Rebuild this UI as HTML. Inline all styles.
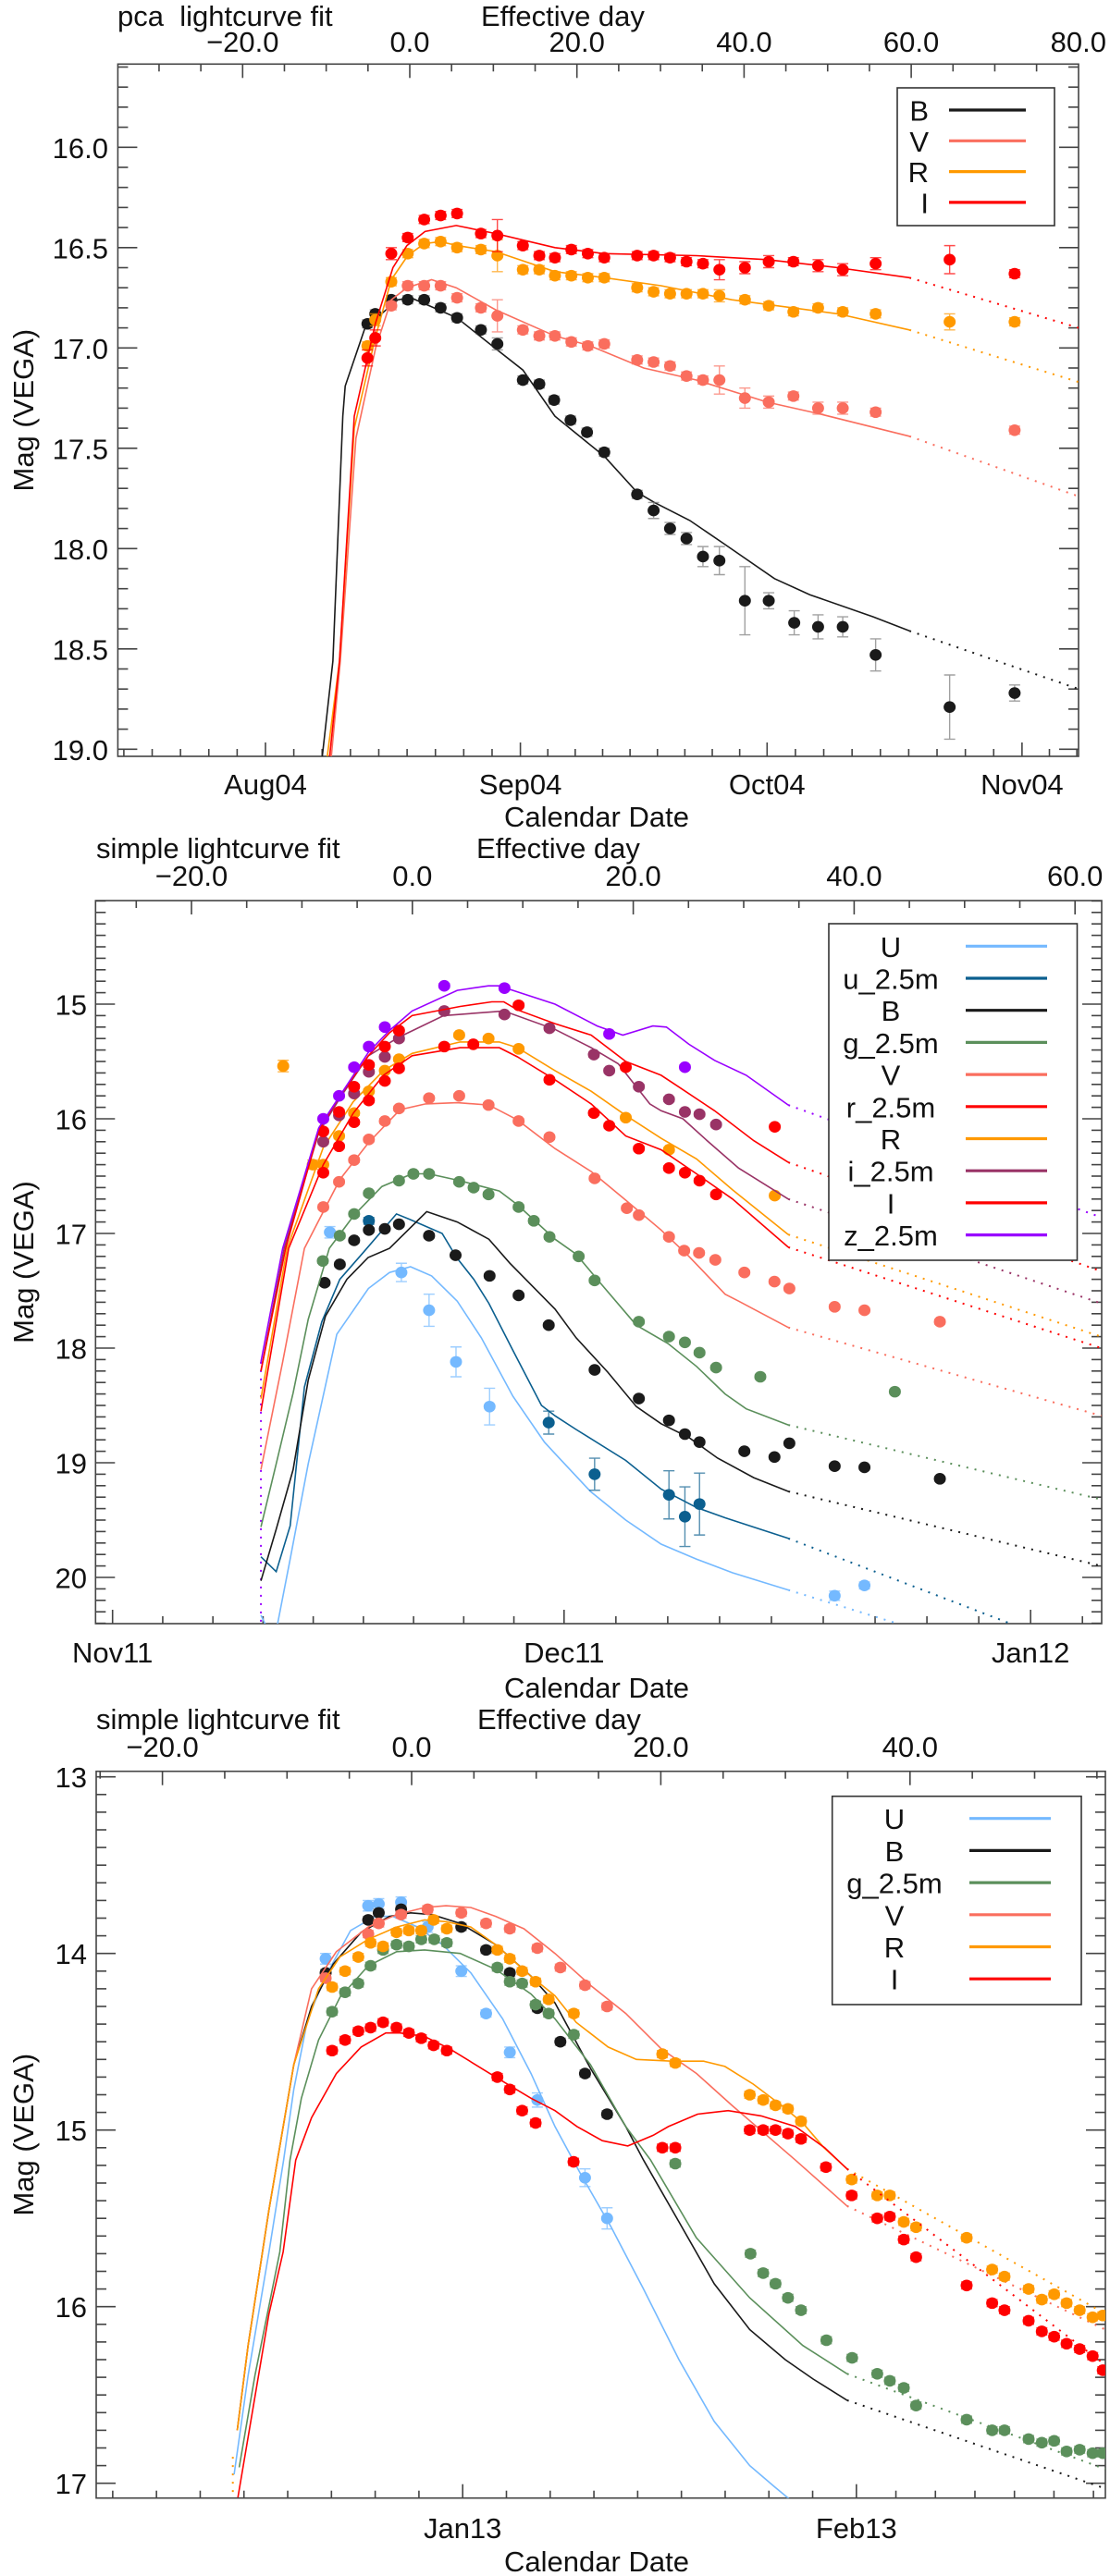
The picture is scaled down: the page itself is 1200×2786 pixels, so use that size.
<!DOCTYPE html>
<html><head><meta charset="utf-8"><style>
html,body{margin:0;padding:0;background:#fff}
svg{display:block}
text{font-family:"Liberation Sans",sans-serif;fill:#111}
</style></head><body>
<svg id="chart" width="1200" height="2786" viewBox="0 0 1200 2786" xmlns="http://www.w3.org/2000/svg"></svg>
<script>
// ===== Panel 1 data (days since Aug 1 2004) =====
const p1_B_d=[12.4,13.35,15.3,17.3,19.3,21.3,23.3,26.2,28.2,31.3,33.3,35.1,37.1,39.1,41.2,45.2,47.2,49.2,51.2,53.2,55.2,58.3,61.2,64.3,67.2,70.2,74.2,83.2,91.1];
const p1_B_m=[16.88,16.83,16.76,16.76,16.76,16.80,16.85,16.91,16.98,17.16,17.18,17.26,17.36,17.42,17.52,17.73,17.81,17.90,17.95,18.04,18.06,18.26,18.26,18.37,18.39,18.39,18.53,18.79,18.72];
const p1_B_e=[0.02,0.02,0.02,0.02,0.02,0.02,0.02,0.02,0.03,0.02,0.02,0.02,0.02,0.02,0.02,0.02,0.04,0.03,0.03,0.05,0.07,0.17,0.04,0.06,0.06,0.05,0.08,0.16,0.04];
const p1_V_d=[15.3,17.3,19.3,21.3,23.3,26.2,28.2,31.3,33.3,35.2,37.2,39.2,41.2,45.2,47.2,49.2,51.2,53.2,55.2,58.3,61.2,64.2,67.2,70.2,74.2,91.1];
const p1_V_m=[16.79,16.69,16.69,16.69,16.75,16.80,16.84,16.91,16.94,16.94,16.97,16.99,16.98,17.06,17.07,17.09,17.14,17.16,17.16,17.25,17.27,17.24,17.30,17.30,17.32,17.41];
const p1_V_e=[0.02,0.02,0.02,0.02,0.02,0.02,0.08,0.02,0.02,0.02,0.02,0.02,0.02,0.02,0.02,0.02,0.02,0.02,0.07,0.05,0.03,0.02,0.03,0.03,0.02,0.02];
const p1_R_d=[12.4,13.35,15.3,17.3,19.3,21.3,23.3,26.2,28.2,31.3,33.3,35.2,37.2,39.2,41.2,45.2,47.2,49.2,51.2,53.2,55.2,58.3,61.2,64.2,67.2,70.2,74.2,83.2,91.1];
const p1_R_m=[16.99,16.86,16.67,16.53,16.48,16.47,16.50,16.51,16.54,16.61,16.61,16.64,16.64,16.65,16.65,16.70,16.72,16.73,16.73,16.73,16.74,16.76,16.79,16.82,16.80,16.82,16.83,16.87,16.87];
const p1_R_e=[0.02,0.03,0.02,0.02,0.02,0.02,0.02,0.02,0.08,0.02,0.02,0.02,0.02,0.02,0.02,0.02,0.02,0.02,0.02,0.02,0.03,0.02,0.02,0.02,0.02,0.02,0.02,0.04,0.02];
const p1_I_d=[12.4,13.35,15.3,17.3,19.3,21.3,23.3,26.2,28.2,31.3,33.3,35.2,37.2,39.2,41.2,45.2,47.2,49.2,51.2,53.2,55.2,58.3,61.2,64.2,67.2,70.2,74.2,83.2,91.1];
const p1_I_m=[17.05,16.95,16.53,16.45,16.36,16.34,16.33,16.43,16.44,16.49,16.54,16.55,16.51,16.53,16.55,16.54,16.54,16.55,16.57,16.58,16.61,16.60,16.57,16.57,16.59,16.61,16.58,16.56,16.63];
const p1_I_e=[0.04,0.04,0.03,0.02,0.02,0.02,0.02,0.02,0.08,0.02,0.02,0.02,0.02,0.02,0.02,0.02,0.02,0.02,0.02,0.02,0.05,0.03,0.03,0.02,0.03,0.03,0.03,0.07,0.02];
const p1_Bfit_d=[6.9,8.2,9.4,9.7,12.1,16.1,17.7,23.3,28.2,31.3,35.2,41.2,45.2,47.3,51.6,55.9,61.9,66.2,73.9,78.3];
const p1_Bfit_m=[19.04,18.56,17.34,17.19,16.9,16.76,16.75,16.85,17.01,17.11,17.34,17.54,17.72,17.77,17.86,17.98,18.15,18.23,18.34,18.41];
const p1_Bdot_d=[78.3,98.9], p1_Bdot_m=[18.41,18.70];
const p1_Vfit_d=[8.0,9.1,11,13.4,15.3,17.2,20.2,23.2,28,35.2,39.5,46,52.4,61,67.5,78.3];
const p1_Vfit_m=[19.04,18.56,17.45,17.0,16.76,16.70,16.66,16.70,16.81,16.94,16.99,17.10,17.16,17.27,17.33,17.44];
const p1_Vdot_d=[78.3,98.9], p1_Vdot_m=[17.44,17.74];
const p1_Rfit_d=[7.5,9.0,10.8,13.35,15.3,17.3,19.3,21.3,23.3,28,35.2,41.2,48.1,56.7,69.6,78.3];
const p1_Rfit_m=[19.04,18.56,17.4,16.95,16.66,16.54,16.48,16.47,16.49,16.52,16.62,16.65,16.69,16.76,16.83,16.91];
const p1_Rdot_d=[78.3,98.9], p1_Rdot_m=[16.91,17.17];
const p1_Ifit_d=[7.8,9.0,10.8,13.35,15.5,17.2,19.4,23.2,28,35.2,41.2,52.4,61,69.6,78.3];
const p1_Ifit_m=[19.04,18.56,17.34,16.88,16.6,16.49,16.42,16.39,16.43,16.50,16.53,16.54,16.56,16.60,16.65];
const p1_Idot_d=[78.3,98.9], p1_Idot_m=[16.65,16.90];

// ===== Panel 2 data (days since Nov 1 2011) =====
const p2_U_d=[14.44,19.19,21.03,22.82,25.05,47.98,49.96];
const p2_U_m=[16.99,17.34,17.67,18.12,18.51,20.16,20.07];
const p2_U_e=[0.05,0.08,0.14,0.13,0.16,0.04,0.03];
const p2_u_d=[17.03,28.98,32.03,36.97,38.03,39.0];
const p2_u_m=[16.89,18.65,19.10,19.28,19.47,19.36];
const p2_u_e=[0.03,0.1,0.14,0.21,0.26,0.27];
const p2_B_d=[14.09,15.1,16.05,17.03,18.09,19.03,21.03,22.79,25.05,26.98,28.98,32.03,34.97,36.97,38.03,39.0,41.98,43.98,44.97,47.98,49.96,54.97];
const p2_B_m=[17.43,17.27,17.06,16.97,16.96,16.92,17.02,17.19,17.37,17.54,17.80,18.19,18.44,18.63,18.75,18.82,18.90,18.95,18.83,19.03,19.04,19.14];
const p2_g_d=[13.97,15.1,16.05,17.03,19.03,19.99,21.03,23.03,23.99,24.98,26.98,27.99,29.03,30.97,32.03,34.97,36.97,38.03,39.0,40.1,43.04,51.98];
const p2_g_m=[17.24,17.02,16.83,16.65,16.54,16.48,16.48,16.55,16.60,16.66,16.77,16.89,17.03,17.20,17.41,17.77,17.90,17.95,18.04,18.17,18.25,18.38];
const p2_V_d=[14.0,15.05,16.05,17.03,18.09,19.03,21.03,23.03,24.98,26.98,29.03,32.03,34.17,34.97,36.97,37.98,38.97,40.05,41.98,43.98,44.97,47.98,49.96,54.97];
const p2_V_m=[16.77,16.55,16.36,16.18,16.02,15.91,15.82,15.80,15.88,16.02,16.16,16.52,16.78,16.84,17.03,17.15,17.17,17.23,17.34,17.42,17.48,17.64,17.67,17.77];
const p2_r_d=[14.0,15.05,16.05,17.03,18.09,19.03,26.98,34.1,44.0];
const p2_r_m=[16.11,15.94,15.72,15.53,15.37,15.23,15.01,15.55,16.07];
const p2_R_d=[11.34,13.3,14.0,15.05,16.05,17.03,18.09,19.03,23.03,24.98,26.98,34.1,36.97,44.0];
const p2_R_m=[15.54,16.40,16.40,16.15,15.95,15.76,15.58,15.48,15.27,15.30,15.39,15.99,16.27,16.67];
const p2_R_e=[0.05,0.04,0.02,0.02,0.02,0.02,0.02,0.02,0.02,0.02,0.02,0.02,0.02,0.02];
const p2_i_d=[14.0,15.05,16.05,17.03,18.09,19.03,22.04,26.04,29.03,31.98,33.0,34.97,36.97,38.03,39.0,40.1];
const p2_i_m=[16.20,15.97,15.78,15.59,15.46,15.30,15.06,15.09,15.21,15.44,15.58,15.72,15.83,15.94,15.96,16.05];
const p2_I_d=[14.0,15.05,16.05,17.03,18.09,19.03,22.04,23.97,29.03,31.98,33.0,34.97,36.97,38.03,39.0,40.1];
const p2_I_m=[16.47,16.24,16.03,15.84,15.67,15.56,15.37,15.35,15.66,15.95,16.06,16.26,16.43,16.47,16.54,16.66];
const p2_z_d=[14.0,15.05,16.05,17.03,18.09,22.04,26.04,33.0,38.03];
const p2_z_m=[16.0,15.80,15.55,15.37,15.20,14.84,14.86,15.26,15.55];
const p2_Ufit_d=[9.86,10.3,10.9,11.8,13,14.9,17,18.4,19.8,21.2,22.9,24.5,26.6,28.7,29.4,31.75,34.1,36.45,38.8,41.2,44.9];
const p2_Ufit_m=[20.33,20.45,20.45,19.84,19.01,17.88,17.48,17.34,17.29,17.37,17.59,17.91,18.42,18.82,18.92,19.25,19.50,19.71,19.84,19.96,20.11];
const p2_Udot_d=[44.9,52.1], p2_Udot_m=[20.11,20.40];
const p2_ufit_d=[9.86,10.87,11.8,12.75,13.9,15.1,16.7,18.86,19.8,21.9,22.86,24.0,25,26.6,28.5,29.4,30.8,34.1,36.45,38.8,40.7,44.9];
const p2_ufit_m=[19.82,19.95,19.55,18.34,17.77,17.40,17.16,16.83,16.88,17.0,17.21,17.40,17.61,18.02,18.50,18.59,18.71,18.98,19.23,19.39,19.48,19.66];
const p2_udot_d=[44.9,59.6], p2_udot_m=[19.66,20.40];
const p2_Bfit_d=[9.86,10.87,12.0,13.0,14.15,15.57,16.98,18.4,20.87,22.9,25,26.4,29.4,30.8,32.9,34.8,36.45,38.3,40.2,42.6,44.9];
const p2_Bfit_m=[20.03,19.58,19.06,18.28,17.72,17.40,17.21,17.13,16.81,16.90,17.05,17.26,17.66,17.91,18.21,18.51,18.66,18.78,18.96,19.13,19.25];
const p2_Bdot_d=[44.9,65.7], p2_Bdot_m=[19.25,19.90];
const p2_gfit_d=[9.86,10.87,12.0,13.0,14.4,16.05,17.9,19.9,21,23.1,25.7,26.9,29.4,30.8,32.2,34.8,36.9,38.8,40.7,42.1,44.9];
const p2_gfit_m=[19.56,19.01,18.39,17.75,17.13,16.84,16.59,16.48,16.48,16.54,16.63,16.75,17.05,17.18,17.40,17.80,17.96,18.16,18.40,18.53,18.67];
const p2_gdot_d=[44.9,65.7], p2_gdot_m=[18.67,19.32];
const p2_Vfit_d=[9.86,11.3,12.75,15.1,17,19.1,20.8,22.9,25,26.9,29.4,31.8,34.1,36.45,38.3,40.7,41.6,44.9];
const p2_Vfit_m=[19.06,18.12,17.13,16.53,16.21,15.92,15.87,15.86,15.88,16.01,16.26,16.46,16.71,16.97,17.20,17.53,17.59,17.82];
const p2_Vdot_d=[44.9,65.7], p2_Vdot_m=[17.82,18.59];
const p2_rfit_d=[9.86,11.5,13.7,15.1,17,18.4,19.9,23.1,25.2,26,26.9,29.4,31.8,34.1,36.45,37.6,40,42.6,44.9];
const p2_rfit_m=[18.2,17.13,16.1,15.8,15.45,15.25,15.1,15.02,14.98,14.98,15.05,15.17,15.27,15.50,15.62,15.72,15.93,16.19,16.38];
const p2_rdot_d=[44.9,65.7], p2_rdot_m=[16.38,17.33];
const p2_Rfit_d=[9.86,11.6,14,16,18,19.9,23.1,25.7,26.9,29.4,31.8,34.1,36.45,38.8,41.2,44.9];
const p2_Rfit_m=[18.44,17.13,16.25,15.85,15.58,15.43,15.33,15.33,15.38,15.58,15.76,15.97,16.17,16.35,16.62,17.01];
const p2_Rdot_d=[44.9,65.7], p2_Rdot_m=[17.01,17.90];
const p2_ifit_d=[9.86,11.4,13.7,15.1,17,19.0,22,26,29.4,31.8,33.6,35.7,36.45,37.9,39.5,41.6,44.9];
const p2_ifit_m=[18.2,17.13,16.12,15.82,15.45,15.29,15.10,15.06,15.22,15.38,15.52,15.87,15.93,16.0,16.19,16.43,16.70];
const p2_idot_d=[44.9,65.7], p2_idot_m=[16.70,17.61];
const p2_Ifit_d=[9.86,11.7,14,16,18,19.9,23.1,25.7,26.9,29.4,31.8,34.1,36.45,38.8,41.2,44.9];
const p2_Ifit_m=[18.55,17.13,16.4,15.95,15.62,15.45,15.38,15.38,15.46,15.66,15.87,16.15,16.27,16.48,16.70,17.12];
const p2_Idot_d=[44.9,65.7], p2_Idot_m=[17.12,18.0];
const p2_zfit_d=[9.86,11.3,13.7,15.1,17,18.4,19.9,22.9,24.97,25.7,26.6,29.4,32.2,33.9,35.9,36.8,38.3,40.0,42.1,44.9];
const p2_zfit_m=[18.12,17.13,16.08,15.8,15.42,15.23,15.06,14.88,14.84,14.84,14.88,15.0,15.19,15.27,15.19,15.20,15.35,15.49,15.62,15.88];
const p2_zdot_d=[44.9,65.7], p2_zdot_m=[15.88,16.86];
const p2_start_d=[9.86,9.86], p2_start_m=[18.12,20.45];

// ===== Panel 3 data (days since Jan 1 2013) =====
const p3_U_d=[-10.79,-7.44,-6.61,-4.85,-2.76,-0.11,1.84,3.71,5.88,9.63,11.37];
const p3_U_m=[14.03,13.73,13.72,13.71,13.85,14.10,14.34,14.56,14.83,15.27,15.50];
const p3_U_e=[0.03,0.03,0.03,0.03,0.03,0.03,0.02,0.03,0.04,0.05,0.06];
const p3_B_d=[-10.79,-7.44,-6.61,-4.85,-0.11,1.84,3.71,5.88,7.69,9.63,11.37];
const p3_B_m=[14.11,13.81,13.77,13.75,13.85,13.98,14.11,14.31,14.50,14.68,14.91];
const p3_g_d=[-10.28,-9.26,-8.22,-7.25,-6.27,-5.21,-4.24,-3.26,-2.24,-1.25,2.73,3.71,4.68,5.74,6.77,8.75,16.74,22.66,23.66,24.63,25.61,26.64,28.64,30.66,32.64,33.63,34.73,35.7,39.68,41.69,42.66,44.56,45.6,46.57,47.55,48.58,49.6,50.4];
const p3_g_m=[14.33,14.22,14.17,14.07,13.98,13.95,13.96,13.92,13.92,13.94,14.08,14.16,14.17,14.29,14.34,14.46,15.19,15.70,15.81,15.87,15.95,16.02,16.19,16.29,16.38,16.42,16.46,16.56,16.64,16.70,16.70,16.75,16.77,16.76,16.82,16.81,16.83,16.83];
const p3_V_d=[-10.79,-7.44,-6.61,-4.85,-2.76,-0.11,1.84,3.71,5.88,7.69,9.63,11.37];
const p3_V_m=[14.14,13.89,13.83,13.78,13.75,13.77,13.83,13.86,13.97,14.08,14.18,14.30];
const p3_R_d=[-10.28,-9.26,-8.22,-7.25,-6.27,-5.21,-4.24,-3.26,-2.29,-1.25,2.73,3.71,4.68,5.74,6.77,8.75,15.72,16.74,22.6,23.66,24.63,25.61,26.64,30.63,32.64,33.63,34.73,35.7,39.68,41.69,42.66,44.56,45.6,46.57,47.55,48.58,49.6,50.4];
const p3_R_m=[14.19,14.10,14.02,13.94,13.96,13.88,13.87,13.87,13.81,13.86,13.98,14.03,14.10,14.16,14.26,14.34,14.57,14.62,14.80,14.83,14.86,14.88,14.95,15.28,15.37,15.37,15.52,15.55,15.61,15.79,15.83,15.90,15.96,15.93,15.98,16.02,16.06,16.05];
const p3_I_d=[-10.28,-9.26,-8.22,-7.25,-6.27,-5.21,-4.24,-3.26,-2.29,-1.25,2.73,3.71,4.68,5.74,8.73,15.72,16.74,22.6,23.66,24.63,25.61,26.64,28.6,30.63,32.64,33.63,34.73,35.7,39.68,41.69,42.66,44.56,45.6,46.57,47.55,48.58,49.6,50.4];
const p3_I_m=[14.55,14.49,14.44,14.42,14.39,14.42,14.45,14.48,14.52,14.55,14.70,14.77,14.89,14.96,15.18,15.10,15.10,15.0,15.0,15.0,15.02,15.05,15.21,15.37,15.50,15.49,15.62,15.72,15.88,15.98,16.02,16.08,16.14,16.17,16.21,16.24,16.28,16.36];
const p3_Ufit_d=[-18.0,-16.9,-15.25,-14.1,-13.3,-12.2,-10.8,-8.83,-6.9,-5.5,-3.54,-1.59,0.64,3.15,5.38,7.27,9.22,11.7,14.24,17.03,19.8,22.6,24.55,25.9];
const p3_Ufit_m=[16.95,16.39,15.69,15.17,14.77,14.37,14.13,13.87,13.79,13.79,13.85,13.95,14.11,14.37,14.68,14.98,15.24,15.55,15.90,16.30,16.65,16.90,17.02,17.10];
const p3_Bfit_d=[-17.75,-16.9,-15.25,-13.3,-11.9,-10.2,-8.0,-5.77,-4.1,-2.4,-0.2,2.6,5.4,7.27,10.06,12.84,14.24,17.03,19.8,22.6,25.4,27.6,30.26];
const p3_Bfit_m=[16.70,16.22,15.45,14.63,14.30,14.06,13.88,13.79,13.77,13.78,13.83,13.95,14.13,14.28,14.65,14.98,15.17,15.52,15.87,16.13,16.30,16.41,16.53];
const p3_Bdot_d=[30.26,50.6], p3_Bdot_m=[16.53,17.03];
const p3_gfit_d=[-17.6,-16.36,-14.4,-13.6,-12.7,-11.35,-9.67,-7.44,-5.2,-3.0,-0.2,2.6,5.38,7.27,10.06,12.84,14.8,18.4,22.6,26.78,30.26];
const p3_gfit_m=[16.91,16.39,15.69,15.17,14.82,14.49,14.25,14.07,13.99,13.98,14.0,14.09,14.23,14.37,14.63,14.98,15.17,15.61,15.95,16.22,16.38];
const p3_gdot_d=[30.26,50.6], p3_gdot_m=[16.38,16.92];
const p3_Vfit_d=[-17.75,-16.9,-15.25,-13.3,-11.9,-9.95,-7.44,-5.2,-3.0,-1.31,0.64,2.6,4.82,7.27,10.06,12.84,15.63,18.42,21.2,26.2,30.26];
const p3_Vfit_m=[16.70,16.22,15.45,14.63,14.20,13.99,13.85,13.78,13.74,13.73,13.74,13.79,13.86,14.0,14.18,14.34,14.54,14.68,14.86,15.17,15.43];
const p3_Vdot_d=[30.26,50.6], p3_Vdot_m=[15.43,16.13];
const p3_Rfit_d=[-17.75,-16.9,-15.25,-13.3,-11.35,-9.67,-7.44,-5.2,-3,-1.31,0.64,2.6,5.38,7.27,8.94,11.45,13.68,16.47,18.97,20.65,22.88,25.1,26.78,28.45,30.26];
const p3_Rfit_m=[16.70,16.22,15.45,14.63,14.20,14.02,13.92,13.85,13.81,13.82,13.85,13.95,14.13,14.24,14.39,14.53,14.60,14.61,14.61,14.64,14.74,14.86,14.96,15.10,15.22];
const p3_Rdot_d=[30.26,50.6], p3_Rdot_m=[15.22,16.04];
const p3_Ifit_d=[-17.7,-16.9,-15.25,-14.14,-13.15,-11.9,-9.95,-8.0,-6.05,-4.93,-2.99,-1.03,2.6,5.38,7.27,9,11,13,15,16.2,18.5,20.9,23.5,26.2,28.5,30.26];
const p3_Ifit_m=[17.08,16.74,16.04,15.69,15.17,14.93,14.68,14.53,14.45,14.45,14.47,14.54,14.70,14.82,14.89,14.98,15.06,15.09,15.03,14.98,14.91,14.89,14.92,14.98,15.1,15.22];
const p3_Idot_d=[30.26,50.6], p3_Idot_m=[15.22,16.33];
const p3_start_d=[-18.1,-18.1], p3_start_m=[16.85,17.1];

// tick label arrays
const p1_effTicks=[-20,0,20,40,60,80], p2_effTicks=[-20,0,20,40,60], p3_effTicks=[-20,0,20,40];
const p1_magTicks=[16.0,16.5,17.0,17.5,18.0,18.5,19.0], p2_magTicks=[15,16,17,18,19,20], p3_magTicks=[13,14,15,16,17];
const p1_monthNames=["Aug04","Sep04","Oct04","Nov04"], p1_monthDays=[0,31,61,92], p1_monthEdges=[-31,0,31,61,92,122];
const p2_monthNames=["Nov11","Dec11","Jan12"], p2_monthDays=[0,30,61], p2_monthEdges=[-31,0,30,61,92];
const p3_monthNames=["Jan13","Feb13"], p3_monthDays=[0,31], p3_monthEdges=[-31,0,31,59];

const C={U:"#74b9ff",u:"#0b5f8f",B:"#1a1a1a",g:"#5b8f5b",V:"#fa6e5e",r:"#ff0000",R:"#ff9900",i:"#993366",I:"#ff0000",z:"#9900ff"};
const NS="http://www.w3.org/2000/svg";
const svg=document.getElementById('chart');
function mk(tag,attrs,parent){const e=document.createElementNS(NS,tag);for(const k in attrs)e.setAttribute(k,attrs[k]);(parent||svg).appendChild(e);return e;}

function drawPanel(P){
  const g=mk('g',{});
  
  
  const X=d=>P.xa+P.k*d, Y=m=>P.ya+P.s*(m-P.m0), XE=e=>P.ex0+P.ek*e;
  const [L,T,R,B]=P.frame;
  const cid='clip'+P.id;
  const cp=mk('clipPath',{id:cid},g); mk('rect',{x:L,y:T,width:R-L,height:B-T},cp);
  const t1=mk('text',{x:P.titleX,y:P.titleY,'font-size':31},g); t1.textContent=P.title;
   
  const t2=mk('text',{x:P.effX,y:P.titleY,'font-size':31},g); t2.textContent="Effective day";
   
  const t3=mk('text',{x:645,y:P.calY,'font-size':31,'text-anchor':'middle'},g); t3.textContent="Calendar Date";
   
  const ym=(T+B)/2;
  const t4=mk('text',{x:0,y:0,'font-size':31,'text-anchor':'middle',transform:`translate(36,${ym}) rotate(-90)`},g); t4.textContent="Mag (VEGA)";
   
  const ax=mk('g',{stroke:'#444','stroke-width':1.6,fill:'none'},g);
   
  for(let e=-40;e<=120;e+=5){const x=XE(e);if(x<L+1||x>R-1)continue;const major=(e%20===0);mk('line',{x1:x,y1:T,x2:x,y2:T+(major?15:8)},ax);}
  P.effTicks.forEach(e=>{const lb=mk('text',{x:XE(e),y:P.effY,'font-size':31,'text-anchor':'middle'},g);lb.textContent=(e<0?"\u2212":"")+Math.abs(e).toFixed(1);
     });
  for(let i=0;i<P.edges.length-1;i++){const a=P.edges[i],b=P.edges[i+1];for(let j=0;j<9;j++){const d=a+(b-a)*j/9;const x=X(d);if(x<L+1||x>R-1)continue;mk('line',{x1:x,y1:B,x2:x,y2:B-(j===0?15:8)},ax);}}
  P.monthNames.forEach((n,i)=>{const lb=mk('text',{x:X(P.monthDays[i]),y:P.monY,'font-size':31,'text-anchor':'middle'},g);lb.textContent=n;
     });
  const mTop=P.m0+(T-P.ya)/P.s, mBot=P.m0+(B-P.ya)/P.s;
  for(let m=Math.ceil(mTop*10);m<=Math.floor(mBot*10);m++){const y=Y(m/10);const major=P.magTicks.some(v=>Math.abs(v*10-m)<0.01);const len=major?21:11;
    mk('line',{x1:L,y1:y,x2:L+len,y2:y},ax);mk('line',{x1:R,y1:y,x2:R-len,y2:y},ax);}
  P.magTicks.forEach(v=>{const lb=mk('text',{x:P.ylabX,y:Y(v)+11.5,'font-size':31,'text-anchor':'end'},g);lb.textContent=P.dec?v.toFixed(1):String(v);
     });
  mk('rect',{x:L,y:T,width:R-L,height:B-T},ax);
  const plot=mk('g',{'clip-path':`url(#${cid})`},g);
   
  const pathOf=(ds,ms)=>ds.map((d,i)=>(i?'L':'M')+X(d).toFixed(1)+' '+Y(ms[i]).toFixed(1)).join(' ');
  P.series.forEach(S=>{
    const sg=mk('g',{},plot);
    
    
    if(S.fd){const p=mk('path',{d:pathOf(S.fd,S.fm),stroke:C[S.c],'stroke-width':1.6,fill:'none'},sg);
       }
    if(S.dd){const p=mk('path',{d:pathOf(S.dd,S.dm),stroke:C[S.c],'stroke-width':2,fill:'none','stroke-dasharray':'2 7'},sg);
       }
    if(S.d){S.d.forEach((d,i)=>{const x=X(d),y=Y(S.m[i]);const err=S.e?S.e[i]:0.02;
      const eb=mk('path',{d:`M${x-6} ${Y(S.m[i]-err)}H${x+6}M${x} ${Y(S.m[i]-err)}V${Y(S.m[i]+err)}M${x-6} ${Y(S.m[i]+err)}H${x+6}`,stroke:S.c==='B'?'#777':C[S.c],'stroke-opacity':0.7,'stroke-width':1.4,fill:'none'},sg);
       
      const c=mk('ellipse',{cx:x,cy:y,rx:6.5,ry:6.3,fill:C[S.c]},sg);
       });}
  });
  const lg=mk('g',{},g);
   
  mk('rect',{x:P.leg.x1,y:P.leg.y1,width:P.leg.x2-P.leg.x1,height:P.leg.y2-P.leg.y1,fill:'#fff',stroke:'#333','stroke-width':1.6},lg);
  P.leg.items.forEach((it,i)=>{const y=P.leg.y0+i*P.leg.dy;
    const tx=mk('text',{x:P.leg.tx,y:y+11.5,'font-size':31,'text-anchor':P.leg.anchor},lg);tx.textContent=it[0];
     
    const ln=mk('line',{x1:P.leg.lx1,y1:y,x2:P.leg.lx2,y2:y,stroke:C[it[1]],'stroke-width':3.2},lg);
     });
}

drawPanel({id:1,name:'panel-pca-fit',frame:[127.4,69.3,1166,818],xa:287,k:8.89,ya:159.3,s:217,m0:16,ex0:443,ek:9.035,
  title:"pca\u00a0 lightcurve fit",titleX:127,titleY:28,effX:520,effY:56,calY:894,monY:859,ylabX:117,dec:true,
  effTicks:p1_effTicks,magTicks:p1_magTicks,monthNames:p1_monthNames,monthDays:p1_monthDays,edges:p1_monthEdges,
  series:[
    {key:'B',c:'B',d:p1_B_d,m:p1_B_m,e:p1_B_e,fd:p1_Bfit_d,fm:p1_Bfit_m,dd:p1_Bdot_d,dm:p1_Bdot_m},
    {key:'V',c:'V',d:p1_V_d,m:p1_V_m,e:p1_V_e,fd:p1_Vfit_d,fm:p1_Vfit_m,dd:p1_Vdot_d,dm:p1_Vdot_m},
    {key:'R',c:'R',d:p1_R_d,m:p1_R_m,e:p1_R_e,fd:p1_Rfit_d,fm:p1_Rfit_m,dd:p1_Rdot_d,dm:p1_Rdot_m},
    {key:'I',c:'I',d:p1_I_d,m:p1_I_m,e:p1_I_e,fd:p1_Ifit_d,fm:p1_Ifit_m,dd:p1_Idot_d,dm:p1_Idot_m}],
  leg:{x1:970,y1:95,x2:1140,y2:244,y0:119,dy:33.3,tx:1004,anchor:'end',lx1:1026,lx2:1109,items:[["B","B"],["V","V"],["R","R"],["I","I"]]}});

drawPanel({id:2,name:'panel-simple-fit-2011',frame:[103.3,974,1191,1756],xa:121.7,k:16.27,ya:1086,s:124,m0:15,ex0:445.8,ek:11.94,
  title:"simple lightcurve fit",titleX:104,titleY:928,effX:515,effY:958,calY:1836,monY:1798,ylabX:94,dec:false,
  effTicks:p2_effTicks,magTicks:p2_magTicks,monthNames:p2_monthNames,monthDays:p2_monthDays,edges:p2_monthEdges,
  series:[
    {key:'start',c:'z',dd:p2_start_d,dm:p2_start_m},
    {key:'U',c:'U',d:p2_U_d,m:p2_U_m,e:p2_U_e,fd:p2_Ufit_d,fm:p2_Ufit_m,dd:p2_Udot_d,dm:p2_Udot_m},
    {key:'u-2.5m',c:'u',d:p2_u_d,m:p2_u_m,e:p2_u_e,fd:p2_ufit_d,fm:p2_ufit_m,dd:p2_udot_d,dm:p2_udot_m},
    {key:'B',c:'B',d:p2_B_d,m:p2_B_m,fd:p2_Bfit_d,fm:p2_Bfit_m,dd:p2_Bdot_d,dm:p2_Bdot_m},
    {key:'g-2.5m',c:'g',d:p2_g_d,m:p2_g_m,fd:p2_gfit_d,fm:p2_gfit_m,dd:p2_gdot_d,dm:p2_gdot_m},
    {key:'V',c:'V',d:p2_V_d,m:p2_V_m,fd:p2_Vfit_d,fm:p2_Vfit_m,dd:p2_Vdot_d,dm:p2_Vdot_m},
    {key:'R',c:'R',d:p2_R_d,m:p2_R_m,e:p2_R_e,fd:p2_Rfit_d,fm:p2_Rfit_m,dd:p2_Rdot_d,dm:p2_Rdot_m},
    {key:'I',c:'I',d:p2_I_d,m:p2_I_m,fd:p2_Ifit_d,fm:p2_Ifit_m,dd:p2_Idot_d,dm:p2_Idot_m},
    {key:'i-2.5m',c:'i',d:p2_i_d,m:p2_i_m,fd:p2_ifit_d,fm:p2_ifit_m,dd:p2_idot_d,dm:p2_idot_m},
    {key:'r-2.5m',c:'r',d:p2_r_d,m:p2_r_m,fd:p2_rfit_d,fm:p2_rfit_m,dd:p2_rdot_d,dm:p2_rdot_m},
    {key:'z-2.5m',c:'z',d:p2_z_d,m:p2_z_m,fd:p2_zfit_d,fm:p2_zfit_m,dd:p2_zdot_d,dm:p2_zdot_m}],
  leg:{x1:896,y1:999,x2:1164.5,y2:1363,y0:1023.3,dy:34.7,tx:963,anchor:'middle',lx1:1044,lx2:1132,
    items:[["U","U"],["u_2.5m","u"],["B","B"],["g_2.5m","g"],["V","V"],["r_2.5m","r"],["R","R"],["i_2.5m","i"],["I","I"],["z_2.5m","z"]]}});

drawPanel({id:3,name:'panel-simple-fit-2013',frame:[104,1915.7,1195,2701.7],xa:500.2,k:13.73,ya:1921.7,s:191,m0:13,ex0:445,ek:13.47,
  title:"simple lightcurve fit",titleX:104,titleY:1870,effX:516,effY:1900,calY:2781,monY:2745,ylabX:94,dec:false,
  effTicks:p3_effTicks,magTicks:p3_magTicks,monthNames:p3_monthNames,monthDays:p3_monthDays,edges:p3_monthEdges,
  series:[
    {key:'start',c:'R',dd:p3_start_d,dm:p3_start_m},
    {key:'U',c:'U',d:p3_U_d,m:p3_U_m,e:p3_U_e,fd:p3_Ufit_d,fm:p3_Ufit_m},
    {key:'B',c:'B',d:p3_B_d,m:p3_B_m,fd:p3_Bfit_d,fm:p3_Bfit_m,dd:p3_Bdot_d,dm:p3_Bdot_m},
    {key:'g-2.5m',c:'g',d:p3_g_d,m:p3_g_m,fd:p3_gfit_d,fm:p3_gfit_m,dd:p3_gdot_d,dm:p3_gdot_m},
    {key:'V',c:'V',d:p3_V_d,m:p3_V_m,fd:p3_Vfit_d,fm:p3_Vfit_m,dd:p3_Vdot_d,dm:p3_Vdot_m},
    {key:'R',c:'R',d:p3_R_d,m:p3_R_m,fd:p3_Rfit_d,fm:p3_Rfit_m,dd:p3_Rdot_d,dm:p3_Rdot_m},
    {key:'I',c:'I',d:p3_I_d,m:p3_I_m,fd:p3_Ifit_d,fm:p3_Ifit_m,dd:p3_Idot_d,dm:p3_Idot_m}],
  leg:{x1:899.7,y1:1942.7,x2:1169,y2:2168,y0:1966.7,dy:34.7,tx:967,anchor:'middle',lx1:1048,lx2:1136,
    items:[["U","U"],["B","B"],["g_2.5m","g"],["V","V"],["R","R"],["I","I"]]}});
</script>
</body></html>
